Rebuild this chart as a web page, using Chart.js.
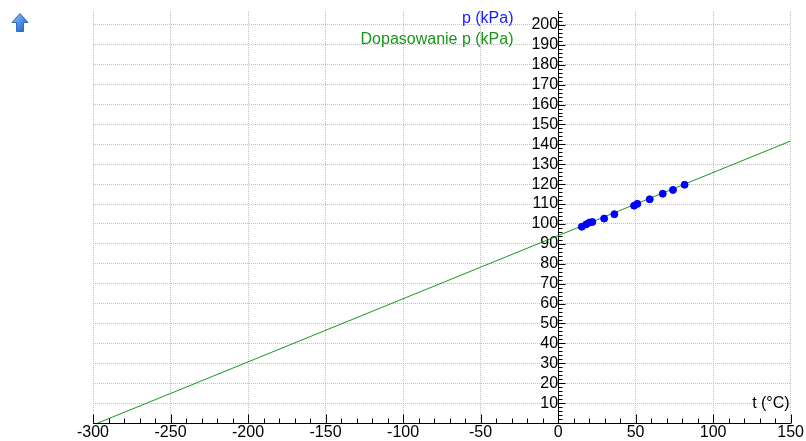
<!DOCTYPE html>
<html>
<head>
<meta charset="utf-8">
<script src="https://cdn.jsdelivr.net/npm/chart.js@4"></script>
<style>
  html, body { margin: 0; padding: 0; background: #fff; }
  #wrap { position: relative; width: 806px; height: 441px; }
  #up { position: absolute; left: 11px; top: 13px; }
</style>
</head>
<body>
<div id="wrap">
  <svg id="up" width="18" height="19" viewBox="0 0 18 19">
    <defs>
      <linearGradient id="g" x1="0" y1="0" x2="1" y2="1">
        <stop offset="0" stop-color="#8cc8f8"/>
        <stop offset="1" stop-color="#1558c0"/>
      </linearGradient>
    </defs>
    <path d="M9 0.5 L17 9.5 L12.5 9.5 L12.5 18.5 L5.5 18.5 L5.5 9.5 L1 9.5 Z" fill="url(#g)" stroke="#2a6cc8" stroke-width="1"/>
  </svg>
  <canvas id="chart" width="806" height="441"></canvas>
</div>
<script>
// measured points
const tValues = [15.3, 18.1, 20.2, 22.1, 29.7, 36.3, 49.0, 51.1, 59.1, 67.5, 74.1, 81.6];
const pValues = [98.6, 99.8, 100.7, 101.0, 102.7, 104.9, 109.2, 110.1, 112.4, 115.2, 117.1, 119.7];

// fitted line end points
const fitT = [-296.8, 150];
const fitP = [0, 141.7];

const seriesLabels = ['p (kPa)', 'Dopasowanie p (kPa)'];
const xTitle = 't (°C)';

const FONT = '"Liberation Sans", Arial, sans-serif';

// minor/major ticks on the axes, drawn on the plot side
const axisTicks = {
    id: 'axisTicks',
    afterDraw(chart) {
        const { ctx, scales: { x, y }, chartArea } = chart;
        const x0 = Math.round(x.getPixelForValue(0)) + 0.5;
        const yb = Math.round(y.getPixelForValue(0)) + 0.5;
        ctx.save();
        ctx.strokeStyle = '#000';
        ctx.lineWidth = 1;
        ctx.beginPath();
        for (let v = 2; v <= y.max; v += 2) {
            const py = Math.round(y.getPixelForValue(v)) + 0.5;
            const len = v % 10 === 0 ? 7 : 4;
            ctx.moveTo(x0, py);
            ctx.lineTo(x0 + len, py);
        }
        for (let v = x.min; v <= x.max; v += 10) {
            const px = Math.round(x.getPixelForValue(v)) + 0.5;
            const len = v % 50 === 0 ? 9 : 5;
            ctx.moveTo(px, yb);
            ctx.lineTo(px, yb - len);
        }
        ctx.stroke();

        ctx.font = '16px ' + FONT;
        ctx.textBaseline = 'middle';
        ctx.textAlign = 'right';
        ctx.fillStyle = '#000';
        ctx.fillText(xTitle, chartArea.right - 1, yb - 20);

        // legend, right aligned left of the y axis
        const lx = x0 - 45;
        chart.data.datasets.forEach((ds, i) => {
            ctx.fillStyle = ds.legendColor;
            ctx.fillText(ds.label, lx, 19 + i * 21);
        });
        ctx.restore();
    }
};

new Chart(document.getElementById('chart'), {
    type: 'scatter',
    data: {
        datasets: [
            {
                label: seriesLabels[0],
                data: tValues.map((t, i) => ({ x: t, y: pValues[i] })),
                backgroundColor: '#0000ff',
                borderColor: '#0000ff',
                pointRadius: 3.5,
                legendColor: '#1a1aff',
                order: 0
            },
            {
                label: seriesLabels[1],
                type: 'line',
                data: fitT.map((t, i) => ({ x: t, y: fitP[i] })),
                borderColor: '#1a961a',
                borderWidth: 1,
                pointRadius: 0,
                fill: false,
                legendColor: '#1a961a',
                order: 1
            }
        ]
    },
    options: {
        responsive: false,
        animation: false,
        layout: { padding: { left: 93, right: 15, top: 10, bottom: 0 } },
        plugins: {
            legend: { display: false },
            tooltip: { enabled: false }
        },
        scales: {
            x: {
                type: 'linear',
                position: 'bottom',
                min: -300,
                max: 150,
                afterFit: s => { s.height = 18; },
                ticks: {
                    stepSize: 50,
                    color: '#000',
                    padding: 2,
                    font: { family: FONT, size: 16, lineHeight: 1 },
                    maxRotation: 0
                },
                grid: {
                    color: '#c0c0c0',
                    drawTicks: false,
                    lineWidth: 1
                },
                border: { color: '#000', dash: [1, 1] }
            },
            y: {
                type: 'linear',
                position: { x: 0 },
                min: 0,
                max: 207,
                ticks: {
                    stepSize: 10,
                    includeBounds: false,
                    color: '#000',
                    padding: 3,
                    font: { family: FONT, size: 16, lineHeight: 1 },
                    callback: v => (v === 0 ? '' : v)
                },
                grid: {
                    color: '#c0c0c0',
                    drawTicks: false
                },
                border: { color: '#000', dash: [1, 1] }
            }
        }
    },
    plugins: [axisTicks]
});
</script>
</body>
</html>
